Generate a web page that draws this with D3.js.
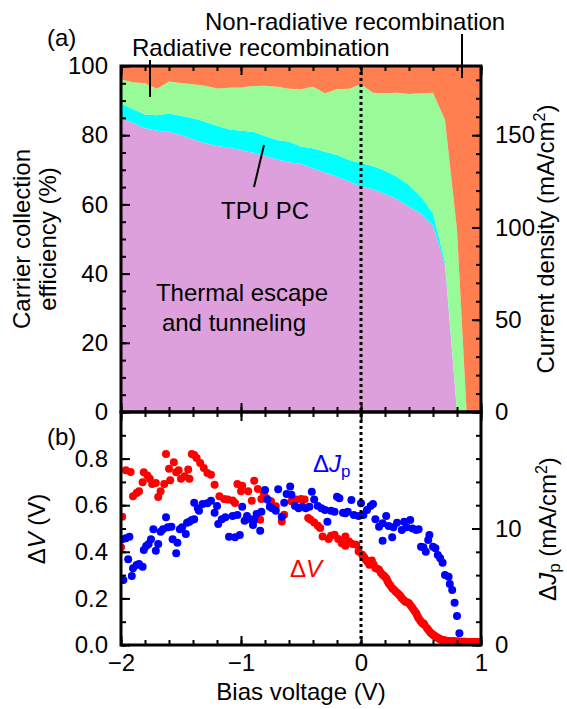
<!DOCTYPE html>
<html>
<head>
<meta charset="utf-8">
<script src="https://cdn.jsdelivr.net/npm/d3@7"></script>
<style>
  body { margin: 0; background: #fff; }
  text { font-family: "Liberation Sans", Arial, sans-serif; }
</style>
</head>
<body>
<div id="chart"></div>
<script>
'use strict';

// (a) carrier collection efficiency components (%), stacked
var bias = [-2.0, -1.9, -1.8, -1.7, -1.6, -1.5, -1.4, -1.3, -1.2, -1.1, -1.0, -0.9, -0.8, -0.7, -0.6, -0.5, -0.4, -0.3, -0.2, -0.1,
            0.0, 0.1, 0.2, 0.3, 0.4, 0.5, 0.6, 0.7, 0.8, 0.88, 0.9, 1.0];
var thermal = [84.9, 83.5, 82.0, 81.3, 81.0, 80.0, 78.8, 77.7, 76.9, 76.4, 75.7, 74.9, 74.0, 73.0, 72.2, 71.7, 70.4, 69.2, 68.0, 66.6,
               65.1, 64.4, 63.0, 61.5, 59.3, 57.4, 54.0, 42.5, 0, 0, 0, 0];
var tpuPC = [4.3, 4.0, 4.0, 4.5, 5.3, 5.6, 6.1, 6.2, 5.8, 5.3, 5.6, 6.1, 5.8, 5.6, 5.9, 5.0, 5.8, 6.0, 6.3, 6.2,
             6.8, 6.7, 6.7, 6.5, 6.3, 4.8, 3.4, 1.0, 0, 0, 0, 0];
var radiative = [6.9, 7.8, 9.0, 7.6, 9.2, 9.5, 9.8, 10.4, 10.8, 12.0, 12.5, 13.2, 14.5, 15.4, 15.3, 16.6, 17.8, 16.9, 19.0, 20.6,
                 22.8, 21.2, 22.4, 24.3, 26.3, 29.9, 34.9, 40.9, 52.6, 0, 0, 0];
var nonRadiative = [3.9, 4.7, 5.0, 6.6, 4.5, 4.9, 5.3, 5.7, 6.5, 6.3, 6.2, 5.8, 5.7, 6.0, 6.6, 6.7, 6.0, 7.9, 6.7, 6.6,
                    5.3, 7.7, 7.9, 7.7, 8.1, 7.9, 7.7, 15.6, 47.4, 100, 100, 100];

// (b) delta V (V)
var dvBias = [-2.0, -1.99, -1.96, -1.92, -1.90, -1.87, -1.85, -1.82, -1.81, -1.78, -1.76, -1.74, -1.71, -1.69, -1.67, -1.64, -1.625, -1.60,
              -1.59, -1.56, -1.54, -1.52, -1.50, -1.47, -1.44, -1.43, -1.41, -1.39, -1.37, -1.34, -1.31, -1.28, -1.25, -1.22, -1.18,
              -1.14, -1.11, -1.07, -1.05, -1.03, -1.0, -0.99, -0.94, -0.91, -0.89, -0.86, -0.84, -0.83, -0.81, -0.79, -0.76, -0.75,
              -0.71, -0.66, -0.64, -0.58, -0.54, -0.50, -0.47, -0.44, -0.42, -0.39, -0.36, -0.34, -0.32, -0.27, -0.25, -0.22, -0.19,
              -0.16, -0.13, -0.13, -0.10, -0.07, -0.04, -0.02, 0.01, 0.025, 0.04, 0.055, 0.07, 0.09, 0.105, 0.12, 0.135, 0.15, 0.165,
              0.18, 0.195, 0.21, 0.22, 0.23, 0.245, 0.26, 0.275, 0.29, 0.305, 0.32, 0.33, 0.34, 0.355, 0.37, 0.385, 0.40, 0.415,
              0.43, 0.445, 0.46, 0.47, 0.48, 0.495, 0.51, 0.52, 0.53, 0.55, 0.565, 0.58, 0.59, 0.60, 0.61, 0.62, 0.63, 0.64, 0.65,
              0.66, 0.67, 0.68, 0.69, 0.70, 0.71, 0.72, 0.73, 0.74, 0.75, 0.76, 0.77, 0.78, 0.79, 0.80, 0.81, 0.82, 0.83, 0.84,
              0.85, 0.86, 0.87, 0.88, 0.89, 0.90, 0.91, 0.92, 0.93, 0.94, 0.95, 0.96, 0.97, 0.98, 0.99];
var dvVals = [0.42, 0.55, 0.75, 0.743, 0.638, 0.652, 0.66, 0.698, 0.741, 0.727, 0.713, 0.691, 0.695, 0.635, 0.66, 0.691, 0.82, 0.756,
              0.707, 0.784, 0.741, 0.75, 0.714, 0.724, 0.753, 0.714, 0.82, 0.815, 0.803, 0.781, 0.76, 0.738, 0.731, 0.688, 0.638,
              0.627, 0.624, 0.62, 0.609, 0.691, 0.66, 0.684, 0.66, 0.619, 0.705, 0.67, 0.538, 0.627, 0.652, 0.631, 0.617, 0.617,
              0.595, 0.53, 0.559, 0.617, 0.624, 0.627, 0.624, 0.545, 0.538, 0.526, 0.512, 0.502, 0.466, 0.455, 0.469, 0.473, 0.455,
              0.437, 0.426, 0.466, 0.444, 0.434, 0.43, 0.401, 0.387, 0.378, 0.366, 0.356, 0.344, 0.363, 0.345, 0.33, 0.327, 0.323, 0.31,
              0.301, 0.295, 0.287, 0.276, 0.265, 0.255, 0.244, 0.237, 0.229, 0.222, 0.215, 0.208, 0.201, 0.193, 0.186, 0.183, 0.179, 0.168,
              0.158, 0.147, 0.136, 0.125, 0.115, 0.104, 0.093, 0.093, 0.086, 0.072, 0.062, 0.053, 0.048, 0.044, 0.04, 0.036, 0.033, 0.03, 0.028,
              0.025, 0.023, 0.021, 0.02, 0.019, 0.018, 0.017, 0.017, 0.016, 0.016, 0.016, 0.016, 0.015, 0.015, 0.015, 0.015, 0.014, 0.014, 0.014,
              0.014, 0.014, 0.014, 0.013, 0.013, 0.013, 0.013, 0.013, 0.013, 0.013, 0.013, 0.012, 0.012, 0.012, 0.012];

// (b) delta Jp (mA/cm2)
var jpBias = [-1.99, -1.98, -1.96, -1.94, -1.93, -1.91, -1.90, -1.87, -1.85, -1.82, -1.81, -1.79, -1.77, -1.75, -1.73, -1.71, -1.69,
              -1.67, -1.65, -1.625, -1.61, -1.58, -1.57, -1.54, -1.53, -1.51, -1.49, -1.46, -1.45, -1.43, -1.41, -1.39, -1.39,
              -1.36, -1.35, -1.32, -1.28, -1.25, -1.22, -1.20, -1.19, -1.16, -1.13, -1.10, -1.07, -1.05, -1.03, -1.01, -0.99, -0.97,
              -0.95, -0.92, -0.90, -0.89, -0.87, -0.84, -0.83, -0.80, -0.78, -0.76, -0.74, -0.71, -0.69, -0.66, -0.64, -0.62, -0.59,
              -0.58, -0.55, -0.52, -0.49, -0.46, -0.43, -0.41, -0.39, -0.36, -0.33, -0.30, -0.28, -0.25, -0.22, -0.20, -0.18, -0.15,
              -0.13, -0.11, -0.08, -0.06, -0.02, 0.0, 0.02, 0.05, 0.08, 0.10, 0.12, 0.15, 0.18, 0.18, 0.21, 0.23, 0.26, 0.27, 0.30,
              0.34, 0.36, 0.38, 0.41, 0.43, 0.46, 0.48, 0.50, 0.52, 0.54, 0.56, 0.57, 0.60, 0.62, 0.64, 0.66, 0.68, 0.70, 0.73,
              0.74, 0.76, 0.78, 0.80, 0.82];
var jpVals = [9.07, 5.58, 9.16, 7.36, 9.3, 5.92, 6.58, 6.87, 6.95, 6.72, 8.15, 8.5, 8.67, 9.07, 9.93, 8.09, 8.67,
              9.73, 9.93, 10.96, 10.1, 10.15, 9.07, 7.87, 8.78, 9.93, 10.1, 9.53, 10.5, 10.58, 10.73, 12.2, 10.8,
              11.73, 11.53, 12.1, 12.16, 12.39, 11.36, 11.93, 10.39, 10.79, 10.96, 9.3, 11.07, 9.24, 11.16, 9.44, 11.87, 10.67,
              11.07, 10.79, 10.3, 10.73, 11.24, 9.81, 11.44, 13.3, 12.5, 11.87, 11.73, 11.53, 13.36, 11.0, 12.2, 12.96, 13.6,
              12.9, 11.93, 11.73, 11.87, 11.73, 11.87, 13.16, 12.5, 11.93, 11.73, 11.59, 10.58, 11.53, 11.44, 12.73, 12.59, 11.36,
              11.3, 11.44, 12.45, 11.16, 11.07, 12.16, 11.16, 11.59, 11.93, 12.1, 10.79, 10.15, 10.45, 8.95, 11.07, 10.21, 9.24, 10.1, 10.5,
              9.87, 10.58, 10.1, 10.73, 10.01, 9.87, 9.93, 8.44, 8.38, 8.01, 9.01, 9.44, 8.44, 8.3, 7.73, 7.44, 7.07, 6.01, 5.86,
              5.24, 4.72, 3.63, 2.49, 1.0];

var W = 567, H = 709;
var pL = 121, pR = 481, pT = 66, pM = 412, pB = 645;
var FS = 24;

var svg = d3.select('#chart').append('svg')
    .attr('width', W)
    .attr('height', H)
    .style('font-family', '"Liberation Sans", Arial, sans-serif');

var x = d3.scaleLinear().domain([-2, 1]).range([pL, pR]);
var yA = d3.scaleLinear().domain([0, 100]).range([pM, pT]);
var yAr = d3.scaleLinear().domain([0, 187.5]).range([pM, pT]);
var yB = d3.scaleLinear().domain([0, 1]).range([pB, pM]);
var yBr = d3.scaleLinear().domain([0, 20]).range([pB, pM]);

// ---- panel (a): stacked areas
var rows = bias.map(function (v, i) {
    return { v: v, thermal: thermal[i], tpu: tpuPC[i], rad: radiative[i], nonrad: nonRadiative[i] };
});
var keys = ['thermal', 'tpu', 'rad', 'nonrad'];
var colors = { thermal: '#dda0dd', tpu: '#00ffff', rad: '#98fb98', nonrad: '#ff7f50' };
var series = d3.stack().keys(keys)(rows);

svg.append('clipPath').attr('id', 'clipA')
    .append('rect').attr('x', pL).attr('y', pT).attr('width', pR - pL).attr('height', pM - pT);
svg.append('clipPath').attr('id', 'clipB')
    .append('rect').attr('x', pL).attr('y', pM).attr('width', pR - pL).attr('height', pB - pM);

var area = d3.area()
    .x(function (d) { return x(d.data.v); })
    .y0(function (d) { return yA(d[0]); })
    .y1(function (d) { return yA(d[1]); });

svg.append('g').attr('clip-path', 'url(#clipA)')
    .selectAll('path')
    .data(series)
    .enter()
    .append('path')
    .attr('d', area)
    .attr('fill', function (d) { return colors[d.key]; });

// ---- panel (b): scatter
var dvData = dvBias.map(function (v, i) { return { v: v, y: dvVals[i] }; });
var jpData = jpBias.map(function (v, i) { return { v: v, y: jpVals[i] }; });

var dots = svg.append('g').attr('clip-path', 'url(#clipB)');

dots.append('g').selectAll('circle')
    .data(dvData)
    .enter()
    .append('circle')
    .attr('cx', function (d) { return x(d.v); })
    .attr('cy', function (d) { return yB(d.y); })
    .attr('r', 4)
    .attr('fill', '#ff0000');

dots.append('g').selectAll('circle')
    .data(jpData)
    .enter()
    .append('circle')
    .attr('cx', function (d) { return x(d.v); })
    .attr('cy', function (d) { return yBr(d.y); })
    .attr('r', 4)
    .attr('fill', '#0000ff');

// dotted line at zero bias
svg.append('line')
    .attr('x1', x(0)).attr('x2', x(0))
    .attr('y1', pT).attr('y2', pB)
    .attr('stroke', '#000')
    .attr('stroke-width', 3)
    .attr('stroke-dasharray', '3,3');

// ---- ticks
function ticks(g, axis) {
    g.call(axis);
    g.select('.domain').remove();
    g.selectAll('.tick line').attr('stroke', '#000').attr('stroke-width', 2);
    g.selectAll('.tick text').attr('fill', '#000').style('font-size', FS + 'px')
        .style('font-family', '"Liberation Sans", Arial, sans-serif');
}

var xMinor = d3.range(-2, 1.001, 0.2).map(function (v) { return Math.round(v * 10) / 10; });
var xMajor = [-2, -1, 0, 1];

[[pT, d3.axisTop], [pM, d3.axisBottom], [pM, d3.axisTop], [pB, d3.axisBottom]].forEach(function (p) {
    ticks(svg.append('g').attr('transform', 'translate(0,' + p[0] + ')'),
        p[1](x).tickValues(xMinor).tickSize(-5).tickFormat(''));
    ticks(svg.append('g').attr('transform', 'translate(0,' + p[0] + ')'),
        p[1](x).tickValues(xMajor).tickSize(-9).tickFormat(''));
});

// bottom x labels
ticks(svg.append('g').attr('transform', 'translate(0,' + pB + ')'),
    d3.axisBottom(x).tickValues(xMajor).tickSize(0).tickPadding(9).tickFormat(d3.format('d')));

// left (a)
ticks(svg.append('g').attr('transform', 'translate(' + pL + ',0)'),
    d3.axisLeft(yA).tickValues(d3.range(0, 101, 5)).tickSize(-5).tickFormat(''));
ticks(svg.append('g').attr('transform', 'translate(' + pL + ',0)'),
    d3.axisLeft(yA).tickValues(d3.range(0, 101, 20)).tickSize(-9).tickPadding(13).tickFormat(d3.format('d')));

// right (a)
ticks(svg.append('g').attr('transform', 'translate(' + pR + ',0)'),
    d3.axisRight(yAr).tickValues(d3.range(0, 181, 10)).tickSize(-5).tickFormat(''));
ticks(svg.append('g').attr('transform', 'translate(' + pR + ',0)'),
    d3.axisRight(yAr).tickValues([0, 50, 100, 150]).tickSize(-9).tickPadding(14).tickFormat(d3.format('d')));

// left (b)
ticks(svg.append('g').attr('transform', 'translate(' + pL + ',0)'),
    d3.axisLeft(yB).tickValues(d3.range(0, 1.01, 0.1)).tickSize(-5).tickFormat(''));
ticks(svg.append('g').attr('transform', 'translate(' + pL + ',0)'),
    d3.axisLeft(yB).tickValues([0, 0.2, 0.4, 0.6, 0.8]).tickSize(-9).tickPadding(13).tickFormat(d3.format('.1f')));

// right (b)
ticks(svg.append('g').attr('transform', 'translate(' + pR + ',0)'),
    d3.axisRight(yBr).tickValues(d3.range(0, 20.1, 2)).tickSize(-5).tickFormat(''));
ticks(svg.append('g').attr('transform', 'translate(' + pR + ',0)'),
    d3.axisRight(yBr).tickValues([0, 10]).tickSize(-9).tickPadding(14).tickFormat(d3.format('d')));

// frames
[[pT, pM], [pM, pB]].forEach(function (r) {
    svg.append('rect')
        .attr('x', pL).attr('y', r[0])
        .attr('width', pR - pL).attr('height', r[1] - r[0])
        .attr('fill', 'none').attr('stroke', '#000').attr('stroke-width', 3);
});

// ---- texts
function label(txt, px, py, opts) {
    opts = opts || {};
    var t = svg.append('text')
        .attr('x', px).attr('y', py)
        .attr('text-anchor', opts.anchor || 'start')
        .attr('fill', opts.color || '#000')
        .style('font-size', (opts.size || FS) + 'px');
    if (opts.rotate) {
        t.attr('transform', 'rotate(-90,' + px + ',' + py + ')');
    }
    return t.text(txt);
}

label('(a)', 47, 46);
label('(b)', 47, 445);
label('Non-radiative recombination', 205, 30);
label('Radiative recombination', 132, 56);
label('TPU PC', 265, 219, { anchor: 'middle' });
label('Thermal escape', 242, 301, { anchor: 'middle' });
label('and tunneling', 234, 331, { anchor: 'middle' });

// pointer lines
[[150, 60, 150, 97], [462, 34, 462, 78], [264, 145, 254, 187]].forEach(function (l) {
    svg.append('line')
        .attr('x1', l[0]).attr('y1', l[1]).attr('x2', l[2]).attr('y2', l[3])
        .attr('stroke', '#000').attr('stroke-width', 2);
});

// axis titles
label('Carrier collection', 30, 239, { anchor: 'middle', rotate: true });
label('efficiency (%)', 56, 239, { anchor: 'middle', rotate: true });

var cd = label('Current density (mA/cm', 554, 239, { anchor: 'middle', rotate: true });
cd.append('tspan').attr('dy', -9).style('font-size', '16px').text('2');
cd.append('tspan').attr('dy', 9).text(')');

label('Bias voltage (V)', 301, 700, { anchor: 'middle' });

var dvt = label('Δ', 45, 529, { anchor: 'middle', rotate: true });
dvt.append('tspan').style('font-style', 'italic').text('V');
dvt.append('tspan').text(' (V)');

var jpt = label('Δ', 556, 529, { anchor: 'middle', rotate: true });
jpt.append('tspan').style('font-style', 'italic').text('J');
jpt.append('tspan').attr('dy', 4).style('font-size', '17px').text('p');
jpt.append('tspan').attr('dy', -4).text(' (mA/cm');
jpt.append('tspan').attr('dy', -9).style('font-size', '16px').text('2');
jpt.append('tspan').attr('dy', 9).text(')');

var jpl = label('Δ', 313, 472, { color: '#0000ff' });
jpl.append('tspan').style('font-style', 'italic').text('J');
jpl.append('tspan').attr('dy', 5).style('font-size', '17px').text('p');

var dvl = label('Δ', 290, 577, { color: '#ff0000' });
dvl.append('tspan').style('font-style', 'italic').text('V');
</script>
</body>
</html>
